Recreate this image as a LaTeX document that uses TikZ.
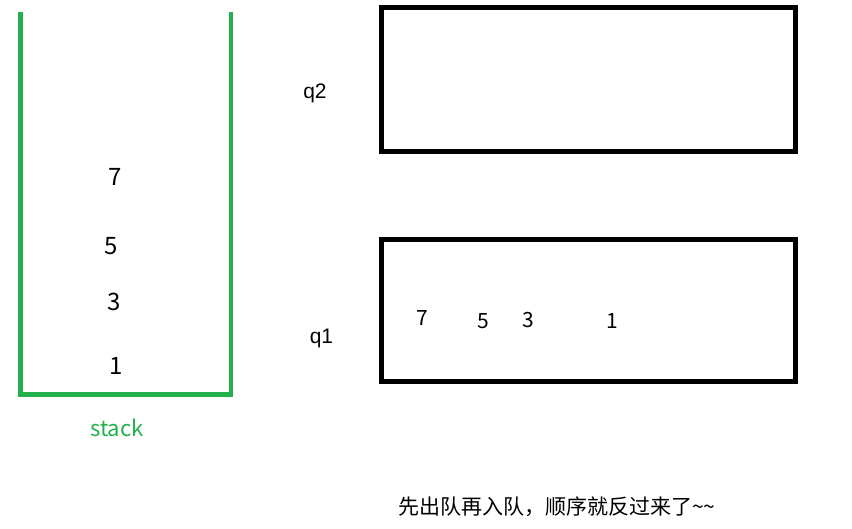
\documentclass[tikz,border=0pt]{standalone}
\usepackage{fontspec}
\setmainfont{Noto Sans CJK SC}
\newfontfamily\queueFont{Liberation Sans}
\usepackage{tikz}
\usetikzlibrary{positioning}
\tikzstyle{canvas} = [x = 1pt, y = -1pt]
\definecolor{stackColor}{RGB}{34,177,76}
\tikzstyle{stackLine} = [color=stackColor, line width=4.5pt]
\tikzstyle{queueLine} = [color=black, line width=5pt]
\tikzstyle{stackNum} = [font=\fontsize{24}{24}\selectfont, inner sep=0pt]
\tikzstyle{queueNum} = [font=\fontsize{21}{21}\selectfont, inner sep=0pt]
\tikzstyle{queueName} = [font=\queueFont\fontsize{21}{21}\selectfont, inner sep=0pt]
\newcommand{\queueRect}[3]{\draw [queueLine] (381, #2) rectangle (795.5, #3) coordinate (#1);}
\newcommand{\stackNumber}[4]{\node [stackNum] (#1) at (#2, #3) {#4};}
\newcommand{\queueNumber}[4]{\node [queueNum] (#1) at (#2, #3) {#4};}

\begin{document}
\begin{tikzpicture}[canvas]
        \useasboundingbox (0,0) rectangle (852,528);
        % the stack
        \draw [stackLine] (20.5, 12) -- (20.5, 394.5) -- (231, 394.5) -- (231, 12);
        \node [text=stackColor, font=\fontsize{22}{22}\selectfont, inner sep=0pt] (stackLabel) at (117, 428) {stack};
        \stackNumber{s7}{115}{177}{7}
        \stackNumber{s5}{111}{246}{5}
        \stackNumber{s3}{114}{301.5}{3}
        \stackNumber{s1}{116}{365.5}{1}
        % the two queues
        \queueRect{q2corner}{7.5}{151}
        \queueRect{q1corner}{239.5}{381}
        \node [queueName] (q2) at (315, 93) {q2};
        \node [queueName] (q1) at (321.5, 338) {q1};
        \queueNumber{q7}{422}{318}{7}
        \queueNumber{q5}{483}{321}{5}
        \queueNumber{q3}{528}{320.5}{3}
        \queueNumber{q1one}{612}{321.5}{1}
        \node [anchor=west, inner sep=0pt, font=\fontsize{21}{21}\selectfont] (note) at (398, 507) {先出队再入队，顺序就反过来了\textasciitilde\textasciitilde};
\end{tikzpicture}
\end{document}
